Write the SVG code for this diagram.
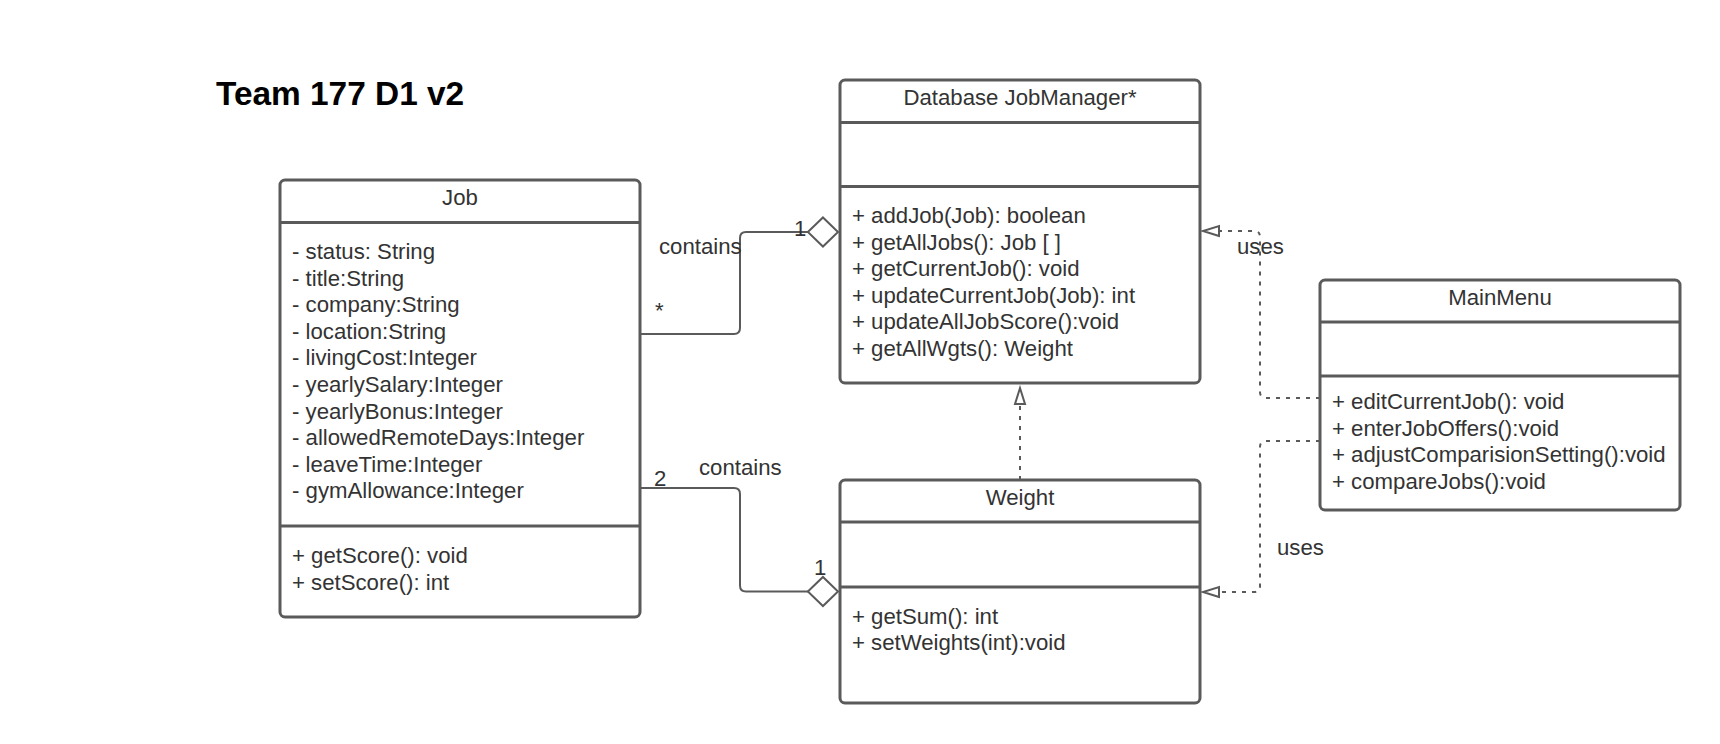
<svg xmlns="http://www.w3.org/2000/svg" width="1720" height="744" viewBox="0 0 1720 744">
  <style>
    .box { fill: #ffffff; stroke: #5a5a5a; stroke-width: 3; }
    .div { stroke: #5a5a5a; stroke-width: 3; }
    .t { font-family: "Liberation Sans", Arial, sans-serif; font-size: 22.2px; fill: #333333; }
    .c { text-anchor: middle; }
    .title { font-family: "Liberation Sans", Arial, sans-serif; font-size: 33.4px; font-weight: bold; fill: #000000; }
    .solid { fill: none; stroke: #5a5a5a; stroke-width: 2; }
    .dash { fill: none; stroke: #5a5a5a; stroke-width: 2; stroke-dasharray: 4 6; }
  </style>
  <defs>
    <marker id="diamond" markerUnits="userSpaceOnUse" markerWidth="34" markerHeight="34" viewBox="-2 -2 35 34" refX="31" refY="15" orient="auto" overflow="visible">
      <path d="M0,15 L15.5,0 L31,15 L15.5,30 Z" fill="#ffffff" stroke="#5a5a5a" stroke-width="2" stroke-dasharray="none"/>
    </marker>
    <marker id="hollow" markerUnits="userSpaceOnUse" markerWidth="20" markerHeight="14" viewBox="-2 -2 20 14" refX="16" refY="5" orient="auto" overflow="visible">
      <path d="M0,0 L16,5 L0,10 Z" fill="#ffffff" stroke="#5a5a5a" stroke-width="2" stroke-dasharray="none"/>
    </marker>
  </defs>

  <rect width="1720" height="744" fill="#ffffff"/>

  <text class="title" x="216" y="105">Team 177 D1 v2</text>

  <!-- associations and dependencies -->
  <g id="connectors">
    <path class="solid" d="M640,334 H734 Q740,334 740,328 V238 Q740,232 746,232 H838" marker-end="url(#diamond)"/>
    <path class="solid" d="M640,488 H734 Q740,488 740,494 V585.5 Q740,591.5 746,591.5 H838" marker-end="url(#diamond)"/>
    <path class="dash" d="M1020,480 V388" marker-end="url(#hollow)"/>
    <path class="dash" d="M1320,398 H1266 Q1260,398 1260,392 V237 Q1260,231 1254,231 H1203" marker-end="url(#hollow)"/>
    <path class="dash" d="M1320,441 H1266 Q1260,441 1260,447 V586 Q1260,592 1254,592 H1203" marker-end="url(#hollow)"/>
    <text class="t" x="659" y="254">contains</text>
    <text class="t" x="655" y="318">*</text>
    <text class="t" x="794" y="236">1</text>
    <text class="t" x="699" y="475">contains</text>
    <text class="t" x="654" y="486">2</text>
    <text class="t" x="814" y="575">1</text>
    <text class="t" x="1237" y="254">uses</text>
    <text class="t" x="1277" y="555">uses</text>
  </g>

  <g id="job">
    <rect class="box" x="280" y="180" width="360" height="437" rx="5"/>
    <line class="div" x1="280" y1="222.5" x2="640" y2="222.5"/>
    <line class="div" x1="280" y1="526" x2="640" y2="526"/>
    <text class="t c" x="460" y="205">Job</text>
    <text class="t" x="292" y="259">- status: String</text>
    <text class="t" x="292" y="285.6">- title:String</text>
    <text class="t" x="292" y="312.2">- company:String</text>
    <text class="t" x="292" y="338.8">- location:String</text>
    <text class="t" x="292" y="365.4">- livingCost:Integer</text>
    <text class="t" x="292" y="392">- yearlySalary:Integer</text>
    <text class="t" x="292" y="418.6">- yearlyBonus:Integer</text>
    <text class="t" x="292" y="445.2">- allowedRemoteDays:Integer</text>
    <text class="t" x="292" y="471.8">- leaveTime:Integer</text>
    <text class="t" x="292" y="498.4">- gymAllowance:Integer</text>
    <text class="t" x="292" y="563">+ getScore(): void</text>
    <text class="t" x="292" y="589.6">+ setScore(): int</text>
  </g>

  <g id="jobmanager">
    <rect class="box" x="840" y="80" width="360" height="303" rx="5"/>
    <line class="div" x1="840" y1="122.5" x2="1200" y2="122.5"/>
    <line class="div" x1="840" y1="186.5" x2="1200" y2="186.5"/>
    <text class="t c" x="1020" y="105">Database JobManager*</text>
    <text class="t" x="852" y="223">+ addJob(Job): boolean</text>
    <text class="t" x="852" y="249.6">+ getAllJobs(): Job [ ]</text>
    <text class="t" x="852" y="276.2">+ getCurrentJob(): void</text>
    <text class="t" x="852" y="302.8">+ updateCurrentJob(Job): int</text>
    <text class="t" x="852" y="329.4">+ updateAllJobScore():void</text>
    <text class="t" x="852" y="356">+ getAllWgts(): Weight</text>
  </g>

  <g id="weight">
    <rect class="box" x="840" y="480" width="360" height="223" rx="5"/>
    <line class="div" x1="840" y1="522" x2="1200" y2="522"/>
    <line class="div" x1="840" y1="587" x2="1200" y2="587"/>
    <text class="t c" x="1020" y="505">Weight</text>
    <text class="t" x="852" y="623.5">+ getSum(): int</text>
    <text class="t" x="852" y="650">+ setWeights(int):void</text>
  </g>

  <g id="mainmenu">
    <rect class="box" x="1320" y="280" width="360" height="230" rx="5"/>
    <line class="div" x1="1320" y1="322" x2="1680" y2="322"/>
    <line class="div" x1="1320" y1="376" x2="1680" y2="376"/>
    <text class="t c" x="1500" y="305">MainMenu</text>
    <text class="t" x="1332" y="409">+ editCurrentJob(): void</text>
    <text class="t" x="1332" y="435.6">+ enterJobOffers():void</text>
    <text class="t" x="1332" y="462.2">+ adjustComparisionSetting():void</text>
    <text class="t" x="1332" y="488.8">+ compareJobs():void</text>
  </g>
</svg>
